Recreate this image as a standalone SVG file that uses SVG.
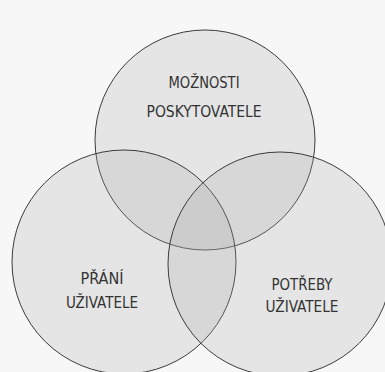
<svg xmlns="http://www.w3.org/2000/svg" width="385" height="372" viewBox="0 0 385 372">
  <style>
    .bg { fill: #f7f7f7; }
    .set { fill: #a8a8a8; fill-opacity: 0.22; stroke: #3c3c3c; stroke-width: 1; }
    .lbl { font-family: "Liberation Sans Narrow", "DejaVu Sans Condensed", "Liberation Sans", sans-serif; font-size: 16px; fill: #333333; text-anchor: middle; }
  </style>
  <rect class="bg" x="0" y="0" width="385" height="372"/>
  <g id="moznosti-poskytovatele">
    <circle class="set" cx="205" cy="140" r="110"/>
    <text class="lbl" x="204" y="88" textLength="71" lengthAdjust="spacingAndGlyphs">MOŽNOSTI</text>
    <text class="lbl" x="204" y="117" textLength="115" lengthAdjust="spacingAndGlyphs">POSKYTOVATELE</text>
  </g>
  <g id="prani-uzivatele">
    <circle class="set" cx="124" cy="262" r="112"/>
    <text class="lbl" x="102" y="284" textLength="43" lengthAdjust="spacingAndGlyphs">PŘÁNÍ</text>
    <text class="lbl" x="102" y="308" textLength="72" lengthAdjust="spacingAndGlyphs">UŽIVATELE</text>
  </g>
  <g id="potreby-uzivatele">
    <circle class="set" cx="280" cy="264" r="112"/>
    <text class="lbl" x="302" y="290" textLength="61" lengthAdjust="spacingAndGlyphs">POTŘEBY</text>
    <text class="lbl" x="302" y="312" textLength="73" lengthAdjust="spacingAndGlyphs">UŽIVATELE</text>
  </g>
  <g id="connectors"/>
</svg>
